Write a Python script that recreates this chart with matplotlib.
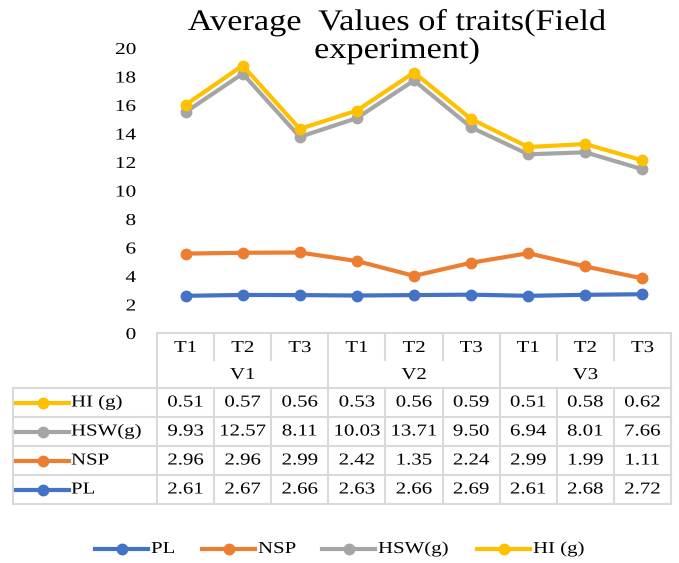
import matplotlib.pyplot as plt
from matplotlib.lines import Line2D
from matplotlib.patheffects import AbstractPathEffect
from matplotlib.transforms import Affine2D
import numpy as np

# Trait means per treatment (T1-T3) within each variety (V1-V3)
treatments = ["T1", "T2", "T3"] * 3
varieties = ["V1", "V2", "V3"]
pl = [2.61, 2.67, 2.66, 2.63, 2.66, 2.69, 2.61, 2.68, 2.72]
nsp = [2.96, 2.96, 2.99, 2.42, 1.35, 2.24, 2.99, 1.99, 1.11]
hsw = [9.93, 12.57, 8.11, 10.03, 13.71, 9.50, 6.94, 8.01, 7.66]
hi = [0.51, 0.57, 0.56, 0.53, 0.56, 0.59, 0.51, 0.58, 0.62]

series_names = ["PL", "NSP", "HSW(g)", "HI (g)"]
series_vals = [pl, nsp, hsw, hi]
colors = ["#4472C4", "#ED7D31", "#A5A5A5", "#FFC000"]


class StretchX(AbstractPathEffect):
    """Widen glyphs horizontally around the text's anchor point."""

    def __init__(self, text, sx):
        super().__init__()
        self.text = text
        self.sx = sx

    def draw_path(self, renderer, gc, tpath, affine, rgbFace=None):
        bb = self.text.get_window_extent(renderer)
        ha = self.text.get_horizontalalignment()
        cx = {"left": bb.x0, "right": bb.x1}.get(ha, (bb.x0 + bb.x1) / 2)
        stretch = Affine2D().translate(-cx, 0).scale(self.sx, 1).translate(cx, 0)
        renderer.draw_path(gc, tpath, affine + stretch, rgbFace)


def widen(t, sx=1.25):
    t.set_path_effects([StretchX(t, sx)])
    return t


W, H = 679, 563
plt.rcParams["font.family"] = ["Liberation Serif", "DejaVu Serif"]
fig = plt.figure(figsize=(W / 100, H / 100), dpi=100)

# plot area in pixel terms
left, right, top, bottom = 157, 671, 48, 333
ax = fig.add_axes([left / W, 1 - bottom / H, (right - left) / W, (bottom - top) / H])

x = np.arange(len(pl))
cum = np.cumsum(np.array(series_vals), axis=0)  # stacked line chart
for vals, c in zip(cum, colors):
    ax.plot(x, vals, color=c, lw=3, marker="o", ms=7.5, solid_capstyle="round")

ax.set_xlim(-0.5, len(pl) - 0.5)
ax.set_ylim(0, 20)
ax.set_yticks(range(0, 21, 2))
ax.set_xticks([])
ax.tick_params(axis="y", length=0, labelsize=12, pad=15)
for s in ax.spines.values():
    s.set_visible(False)
for tl in ax.get_yticklabels():
    widen(tl, 1.28)

# overlay axes in pixel coordinates for the data table and legend
ov = fig.add_axes([0, 0, 1, 1], facecolor="none")
ov.set_xlim(0, W)
ov.set_ylim(H, 0)
ov.axis("off")

grid = "#D9D9D9"
colw = (right - left) / len(pl)
hdr_mid, hdr_bot = 360, 388
row_h = 29
n_rows = len(series_names)
tab_bot = hdr_bot + row_h * n_rows
label_left = 13


def hline(y, x0, x1):
    ov.add_line(Line2D([x0, x1], [y, y], color=grid, lw=1.5))


def vline(xp, y0, y1):
    ov.add_line(Line2D([xp, xp], [y0, y1], color=grid, lw=1.5))


def key(x0, y, c):
    ov.add_line(Line2D([x0, x0 + 26.5, x0 + 53], [y, y, y], color=c, lw=3,
                       marker="o", markevery=[1], ms=7.5))


hline(bottom, left, right)
hline(hdr_bot, label_left, right)
for r in range(1, n_rows + 1):
    hline(hdr_bot + r * row_h, label_left, right)
vline(label_left, hdr_bot, tab_bot)
for i in range(len(pl) + 1):
    xp = left + i * colw
    if i % 3 == 0:
        vline(xp, bottom, tab_bot)
    else:
        vline(xp, bottom, hdr_mid)
        vline(xp, hdr_bot, tab_bot)

for i, t in enumerate(treatments):
    widen(ov.text(left + (i + 0.5) * colw, 348, t, ha="center", va="center", fontsize=12))
for j, v in enumerate(varieties):
    widen(ov.text(left + (3 * j + 1.5) * colw, 375, v, ha="center", va="center", fontsize=12))

# rows listed top-down: HI, HSW, NSP, PL
for r, k in enumerate(reversed(range(n_rows))):
    yc = hdr_bot + (r + 0.5) * row_h
    key(16, yc, colors[k])
    widen(ov.text(71, yc, series_names[k], ha="left", va="center", fontsize=12))
    for i, v in enumerate(series_vals[k]):
        widen(ov.text(left + (i + 0.5) * colw, yc, f"{v:.2f}", ha="center",
                      va="center", fontsize=12))

# legend along the bottom
leg_y = 549
leg_x = [95, 202, 322, 477]
for k, lx in enumerate(leg_x):
    key(lx, leg_y, colors[k])
    widen(ov.text(lx + 56, leg_y, series_names[k], ha="left", va="center", fontsize=12))

widen(ov.text(397, 30, "Average  Values of traits(Field", ha="center", va="baseline",
              fontsize=21.5), 1.15)
widen(ov.text(397, 58, "experiment)", ha="center", va="baseline", fontsize=21.5), 1.15)

fig.savefig("out.png", dpi=100)
